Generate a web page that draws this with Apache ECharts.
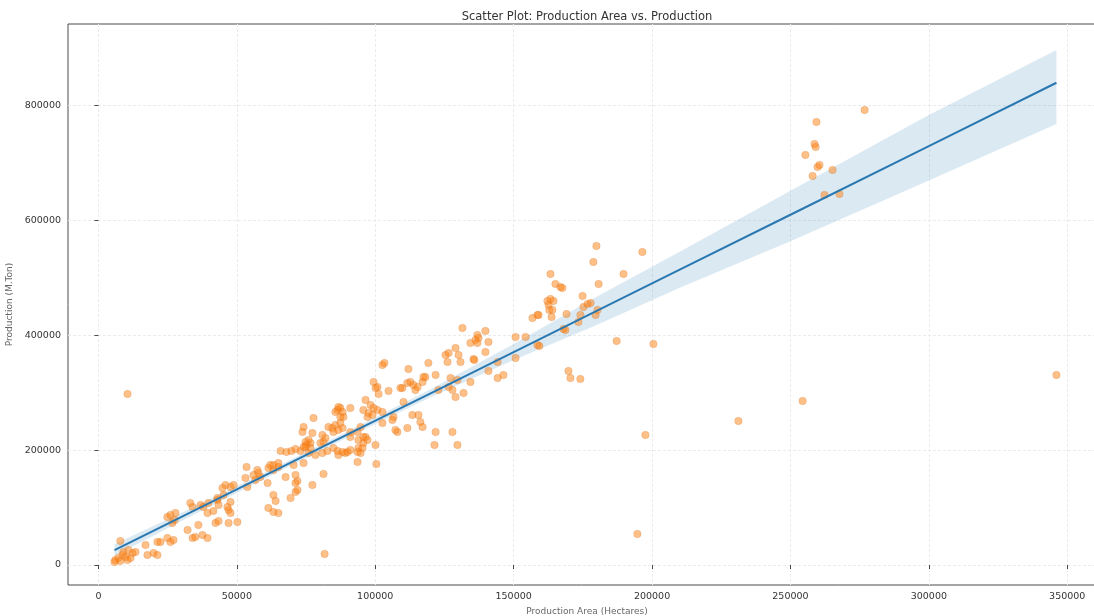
<!DOCTYPE html>
<html>
<head>
<meta charset="utf-8">
<script src="https://cdn.jsdelivr.net/npm/echarts@6/dist/echarts.min.js"></script>
<style>
  html, body { margin: 0; padding: 0; background: #ffffff; }
  #chart { width: 1094px; height: 616px; }
</style>
</head>
<body>
<div id="chart"></div>
<script>
// Production area (hectares) per observation
const areaHa = [
  7900, 6100, 7200, 8700, 9800, 9000, 10800, 12300, 13400, 10500,
  5800, 7900, 11600, 17000, 17700, 19900, 21300, 21300, 22400, 26000,
  27100, 24900, 24900, 26000, 26700, 27800, 27500, 32200, 34000, 35000,
  36100, 37600, 39400, 33200, 34000, 36900, 37900, 39400, 39700, 41500,
  43000, 43400, 47000, 47000, 42300, 43400, 50200, 44800, 47700, 48800,
  45900, 53800, 47700, 46600, 47700, 53100, 53500, 61100, 63200, 64000,
  61400, 63200, 65000, 69400, 71200, 77300, 81700, 10500, 57400, 57800,
  56000, 61400, 63200, 65000, 63200, 65000, 58500, 56700, 67600, 71200,
  71900, 71200, 71900, 81300, 70500, 45200, 43000, 74100, 62100, 65800,
  67900, 69700, 71200, 73000, 74800, 76600, 75900, 78400, 80900, 82700,
  86700, 89200, 84900, 86400, 88200, 90000, 91000, 94700, 93900, 95700,
  96500, 100100, 108000, 93600, 100400, 95400, 93600, 74100, 73700, 77300,
  80900, 82000, 81300, 80200, 75900, 74800, 75200, 74100, 76600, 77700,
  86400, 87400, 88500, 85600, 83100, 84500, 85600, 84900, 86700, 88200,
  87400, 91000, 88200, 86700, 87400, 93600, 94700, 95700, 97200, 93900,
  91000, 91000, 102600, 103300, 112000, 99400, 100800, 101200, 100100, 104800,
  109800, 111600, 112700, 113800, 115300, 117100, 118100, 119200, 114500, 96500,
  98300, 99400, 100800, 95700, 97600, 97200, 99000, 106600, 107300, 111600,
  113400, 115600, 116300, 117100, 110200, 106200, 102600, 102600, 121800, 127900,
  121400, 129700, 131500, 136900, 136200, 137300, 134400, 136900, 139800, 140900,
  139800, 150700, 154300, 156800, 158600, 158600, 150700, 125400, 126500, 126100,
  130100, 129000, 130800, 135500, 117400, 121800, 127200, 129700, 134400, 140900,
  144200, 146300, 144200, 122800, 127900, 129000, 131900, 126500, 135800, 109100,
  179900, 196500, 178800, 163300, 189700, 165100, 166900, 167600, 180700, 162200,
  163300, 164400, 162600, 162900, 164000, 174900, 175200, 176700, 177800, 174100,
  180300, 179600, 169100, 159000, 163700, 173400, 168000, 159300, 187200, 200500,
  169800, 170500, 174100, 168700, 276800, 259400, 258700, 259100, 255400, 260500,
  259800, 265200, 258000, 262300, 267700, 346100, 254400, 231200, 197600, 194700
];

// Production (metric tons) per observation
const productionTon = [
  41800, 8700, 12200, 17400, 13900, 22600, 26100, 20900, 22600, 8700,
  5200, 7000, 12200, 34800, 17400, 20900, 17400, 40100, 40100, 40100,
  43500, 47000, 83600, 87100, 73100, 90600, 78400, 60900, 47000, 48800,
  69700, 52200, 47000, 108000, 101000, 104500, 101000, 90600, 108000, 94000,
  113200, 104500, 95800, 73100, 73100, 76600, 74900, 134100, 135800, 139300,
  139300, 135800, 109700, 101000, 90600, 151500, 170700, 142800, 121900, 111500,
  99300, 92300, 90600, 116700, 127100, 139300, 19200, 297800, 165400, 160200,
  156700, 168900, 165400, 170700, 174100, 177600, 153200, 148000, 153200, 156700,
  146300, 142800, 130600, 158500, 174100, 121900, 116700, 177600, 174100, 198500,
  196800, 198500, 202000, 198500, 205500, 212500, 195000, 191600, 195000, 198500,
  191600, 195000, 203700, 198500, 196800, 196800, 200300, 195000, 203700, 212500,
  222900, 209000, 231600, 179400, 175900, 203700, 196800, 240300, 231600, 229900,
  226400, 221200, 214200, 212500, 217700, 214200, 209000, 205500, 203700, 256000,
  269900, 273400, 257700, 266400, 240300, 238600, 243800, 231600, 235100, 238600,
  247300, 273400, 266400, 275100, 257700, 231600, 240300, 222900, 217700, 217700,
  231600, 222900, 348300, 351800, 341300, 318700, 310000, 297800, 308200, 303000,
  308200, 316900, 318700, 313500, 310000, 318700, 327400, 351800, 304700, 287300,
  278600, 273400, 269900, 269900, 264700, 257700, 261200, 257700, 235100, 238600,
  261200, 261200, 249000, 240300, 283800, 252500, 266400, 247300, 231600, 231600,
  209000, 209000, 412700, 400500, 391800, 395300, 386600, 386600, 407500, 388300,
  370900, 397000, 397000, 430100, 435400, 383100, 360500, 365700, 369200, 353500,
  365700, 377900, 353500, 358700, 327400, 330900, 325600, 322200, 318700, 337800,
  353500, 330900, 325600, 304700, 304700, 292600, 299500, 310000, 357000, 308200,
  555500, 545100, 527600, 506700, 506700, 489300, 484100, 482400, 489300, 459700,
  463200, 459700, 452800, 444100, 444100, 468400, 449300, 454500, 456200, 435400,
  444100, 435400, 437100, 435400, 431900, 423200, 411000, 381400, 390100, 384800,
  337800, 325600, 323900, 409200, 792300, 771400, 733100, 727900, 714000, 696600,
  693100, 687900, 677400, 644300, 646100, 330900, 285600, 250800, 226400, 54000
];

// Fitted regression line and its confidence band
const fitArea       = [5800, 30000, 60000, 90000, 120000, 150000, 180000, 210000, 250000, 300000, 346100];
const fitProduction = [25900, 83800, 155500, 227300, 299000, 370800, 442500, 514200, 609900, 729500, 839700];
const ciLower       = [15500, 76800, 150300, 222100, 292000, 356900, 418100, 482900, 563900, 669500, 767700];
const ciUpper       = [36300, 90800, 160700, 232500, 306000, 384700, 466900, 545500, 651700, 783500, 896800];

// Axis tick positions
const xTicks = [0, 50000, 100000, 150000, 200000, 250000, 300000, 350000];
const yTicks = [0, 200000, 400000, 600000, 800000];

const FONT = 'DejaVu Sans';
const chart = echarts.init(document.getElementById('chart'), null, { renderer: 'canvas' });

const points = areaHa.map((x, i) => [x, productionTon[i]]);
const fitLine = fitArea.map((x, i) => [x, fitProduction[i]]);
const band = fitArea.map((x, i) => [x, ciLower[i], ciUpper[i]]);

chart.setOption({
  animation: false,
  backgroundColor: '#ffffff',
  title: {
    text: 'Scatter Plot: Production Area vs. Production',
    left: 582,
    top: 6,
    textAlign: 'center',
    textStyle: { fontFamily: FONT, fontSize: 11.5, fontWeight: 'normal', color: '#333333' }
  },
  grid: {
    left: 68, top: 24, width: 1038, height: 561,
    show: true, borderColor: '#4a4a4a', borderWidth: 1,
    backgroundColor: 'transparent',
    outerBoundsMode: 'none'
  },
  xAxis: {
    type: 'value', min: -11000, max: 364000,
    name: 'Production Area (Hectares)',
    nameLocation: 'middle', nameGap: 21,
    nameTextStyle: { fontFamily: FONT, fontSize: 9, color: '#666666' },
    axisLine: { show: false },
    axisTick: { show: true, customValues: xTicks, length: 4, lineStyle: { color: '#4a4a4a', width: 1 } },
    axisLabel: { customValues: xTicks, formatter: v => String(v), margin: 7,
                 fontFamily: FONT, fontSize: 9.5, color: '#333333' },
    splitLine: { show: true, lineStyle: { color: '#ebebeb', width: 1, type: [3, 2] } }
  },
  yAxis: {
    type: 'value', min: -34800, max: 942000,
    name: 'Production (M.Ton)',
    nameLocation: 'middle', nameGap: 48, nameRotate: 90,
    nameTextStyle: { fontFamily: FONT, fontSize: 9, color: '#666666' },
    axisLine: { show: false },
    axisTick: { show: true, customValues: yTicks, length: 4, lineStyle: { color: '#4a4a4a', width: 1 } },
    axisLabel: { customValues: yTicks, formatter: v => String(v), margin: 7,
                 fontFamily: FONT, fontSize: 9.5, color: '#333333' },
    splitLine: { show: true, lineStyle: { color: '#ebebeb', width: 1, type: [3, 2] } }
  },
  series: [
    {
      type: 'scatter',
      data: points,
      symbol: 'circle',
      symbolSize: 7.5,
      itemStyle: { color: 'rgba(255,127,14,0.62)', borderColor: 'rgba(200,110,40,0.45)', borderWidth: 0.6 }
    },
    {
      type: 'custom',
      data: band,
      encode: { x: 0, y: [1, 2] },
      renderItem: (params, api) => {
        if (params.dataIndex !== 0) return null;
        const upper = fitArea.map((x, i) => api.coord([x, ciUpper[i]]));
        const lower = fitArea.map((x, i) => api.coord([x, ciLower[i]])).reverse();
        return {
          type: 'polygon',
          shape: { points: upper.concat(lower) },
          style: { fill: 'rgba(31,119,180,0.16)', stroke: null }
        };
      },
      silent: true
    },
    {
      type: 'line',
      data: fitLine,
      showSymbol: false,
      symbol: 'none',
      lineStyle: { color: '#2a78b0', width: 2 },
      silent: true
    }
  ]
});
</script>
</body>
</html>
